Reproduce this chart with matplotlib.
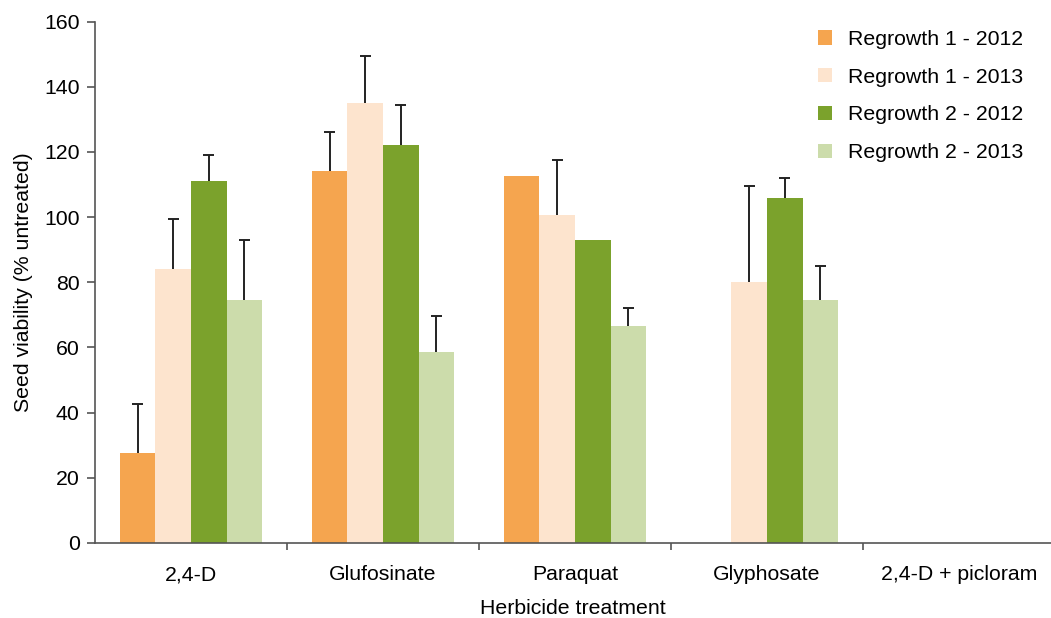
import numpy as np
import matplotlib
matplotlib.use("Agg")
import matplotlib.pyplot as plt
from matplotlib.patches import Patch

plt.rcParams['font.family'] = ['Liberation Sans', 'DejaVu Sans']

categories = ["2,4-D", "Glufosinate", "Paraquat", "Glyphosate", "2,4-D + picloram"]
series_names = ["Regrowth 1 - 2012", "Regrowth 1 - 2013", "Regrowth 2 - 2012", "Regrowth 2 - 2013"]
r1_2012 = [27.5, 114, 112.5, 0, 0]
r1_2013 = [84, 135, 100.5, 80, 0]
r2_2012 = [111, 122, 93, 106, 0]
r2_2013 = [74.5, 58.5, 66.5, 74.5, 0]
r1_2012_err = [15, 12, np.nan, np.nan, np.nan]
r1_2013_err = [15.5, 14.5, 17, 29.5, np.nan]
r2_2012_err = [8, 12.5, np.nan, 6, np.nan]
r2_2013_err = [18.5, 11, 5.5, 10.5, np.nan]
colors = ["#F5A54F", "#FDE4CE", "#7BA22C", "#CCDCAB"]

values = [r1_2012, r1_2013, r2_2012, r2_2013]
errors = [r1_2012_err, r1_2013_err, r2_2012_err, r2_2013_err]

FS = 15.3
fig = plt.figure(figsize=(10.51, 6.18), dpi=100)
ax = fig.add_axes([95/1051, 75/618, 956/1051, 521.5/618])

x = np.arange(len(categories))
w = 0.185
cap = 0.028
for i, (vals, errs, c) in enumerate(zip(values, errors, colors)):
    pos = x + (i - 1.5) * w
    vals = np.array(vals, dtype=float)
    errs = np.array(errs, dtype=float)
    ax.bar(pos, vals, width=w, color=c, edgecolor='none', label=series_names[i], zorder=2)
    ok = ~np.isnan(errs)
    ax.vlines(pos[ok], vals[ok], vals[ok] + errs[ok], color='#222222', linewidth=1.4, zorder=3)
    ax.hlines(vals[ok] + errs[ok], pos[ok] - cap, pos[ok] + cap, color='#222222', linewidth=1.4, zorder=3)

ax.set_xlim(-0.5, -0.5 + 956/192)
ax.set_ylim(0, 160)
ax.set_yticks(np.arange(0, 161, 20))
ax.tick_params(axis='y', direction='out', length=6, width=1.2, color='#555555',
               labelsize=FS, pad=5)
ax.set_xticks(x)
ax.set_xticklabels(categories)
ax.set_xticks(np.arange(0.5, 4.5, 1.0), minor=True)
ax.tick_params(axis='x', which='major', length=0, labelsize=FS, pad=16)
ax.tick_params(axis='x', which='minor', direction='out', length=5, width=1.2, color='#555555')

for s in ['top', 'right']:
    ax.spines[s].set_visible(False)
for s in ['left', 'bottom']:
    ax.spines[s].set_color('#555555')
    ax.spines[s].set_linewidth(1.2)

ax.set_ylabel("Seed viability (% untreated)", fontsize=FS, labelpad=8)
ax.set_xlabel("Herbicide treatment", fontsize=FS, labelpad=11)

handles = [Patch(facecolor=c, edgecolor='none') for c in colors]
ax.legend(handles, series_names, loc='upper left', bbox_to_anchor=(818/1051, 1 - 30/618),
          bbox_transform=fig.transFigure, frameon=False, fontsize=FS,
          handlelength=0.65, handleheight=0.65, handletextpad=0.75, labelspacing=0.88,
          borderaxespad=0, borderpad=0)

fig.savefig("out.png", dpi=100)
